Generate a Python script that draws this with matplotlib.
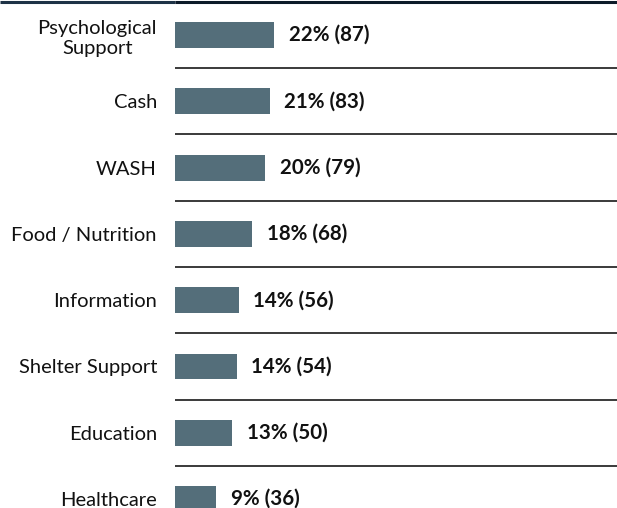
import matplotlib
matplotlib.use("Agg")
import matplotlib.pyplot as plt
from matplotlib.lines import Line2D

categorias = ["Psychological\nSupport", "Cash", "WASH", "Food / Nutrition",
              "Information", "Shelter Support", "Education", "Healthcare"]
contagens = [87, 83, 79, 68, 56, 54, 50, 36]
percentuais = [22, 21, 20, 18, 14, 14, 13, 9]

plt.rcParams['font.family'] = ['Lato', 'DejaVu Sans']

fig = plt.figure(figsize=(6.17, 5.08), dpi=100)
ax = fig.add_axes([175 / 617, 0, 442 / 617, 1])

pos = list(range(len(categorias)))
ax.barh(pos, contagens, height=0.39, color="#546e7a")

for i, (c, p) in enumerate(zip(contagens, percentuais)):
    ax.annotate("{}% ({})".format(p, c), (c, i), xytext=(10.5, 0),
                textcoords="offset points", va="center", ha="left",
                fontsize=14.8, fontweight="bold", color="#111111")

# linhas separadoras entre as categorias
for i in range(len(categorias) - 1):
    ax.axhline(i + 0.5, color="#3a3a3a", linewidth=1.4)

ax.set_xlim(0, 388)
ax.set_ylim(7.135, -0.528)
ax.set_yticks(pos)
ax.set_yticklabels(categorias, fontsize=14.5, color="#111111", multialignment="center",
                   linespacing=1.25)
ax.tick_params(axis="y", length=0, pad=13)
ax.set_xticks([])
for s in ax.spines.values():
    s.set_visible(False)

# faixa escura no topo
fig.add_artist(Line2D([0, 175 / 617], [1 - 1.5 / 508] * 2, color="#1e3246", linewidth=2.2,
                      transform=fig.transFigure, solid_capstyle="butt"))
fig.add_artist(Line2D([175 / 617, 1], [1 - 1.5 / 508] * 2, color="#0c1a28", linewidth=2.2,
                      transform=fig.transFigure, solid_capstyle="butt"))

fig.savefig("out.png", dpi=100)
